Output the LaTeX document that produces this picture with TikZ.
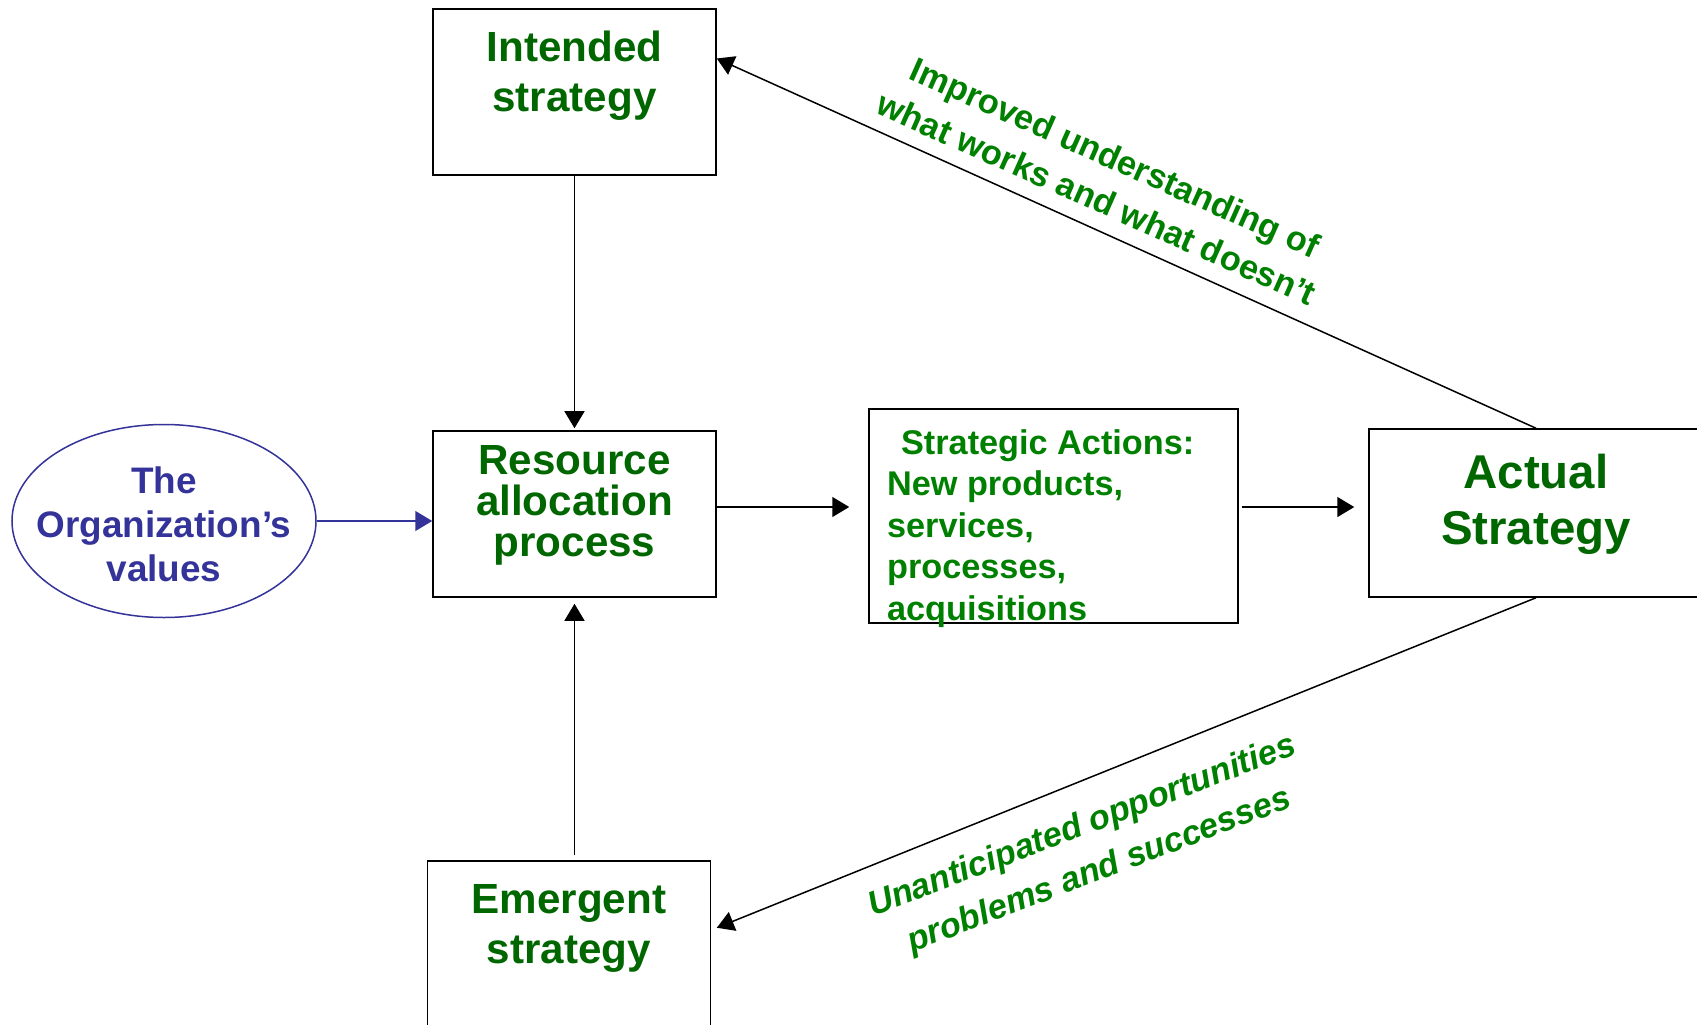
\documentclass[tikz,border=0pt]{standalone}
\usepackage{fontspec}
\setmainfont{Liberation Sans}
\usetikzlibrary{arrows.meta, positioning, shapes.geometric}

\definecolor{stratgreen}{HTML}{006600}
\definecolor{labelgreen}{HTML}{008000}
\definecolor{valblue}{HTML}{333399}

\begin{document}
\begin{tikzpicture}[
  x=0.2mm, y=-0.2mm,
  box/.style = {draw, line width=0.3mm, minimum width=56.6mm, minimum height=33.2mm},
  boxtxt/.style = {inner sep=0pt, align=center, text=stratgreen, font=\bfseries\fontsize{24}{28.5}\selectfont},
  arr/.style = {line width=0.3mm, -{Triangle[length=3.4mm, width=4mm]}},
  lbl/.style = {inner sep=0pt, align=center, text=labelgreen, font=\bfseries\fontsize{19.5}{25.6}\selectfont}
]
  \useasboundingbox (0,0) rectangle (1697,1025);

  % Boxes
  \node[box] (intended) at (574.5,92) {};
  \node[box] (resource) at (574.5,514) {};
  \node[box] (emergent) at (569,944) {};
  \node[box, minimum width=73.8mm, minimum height=42.8mm] (actions) at (1053.5,516) {};
  \node[box, minimum width=66.8mm, minimum height=33.6mm] (actual) at (1536,513) {};
  \node[ellipse, draw=valblue, line width=0.3mm, minimum width=60.8mm, minimum height=38.6mm,
        inner sep=0pt] (values) at (164,521) {};

  % Box texts
  \node[boxtxt, text=valblue, font=\bfseries\fontsize{21}{25}\selectfont] (valuestxt) at (164,524) {The\\Organization’s\\values};
  \node[boxtxt, below=4.4mm of intended.north] (intendedtxt) {Intended\\strategy};
  \node[boxtxt, font=\bfseries\fontsize{24}{23.2}\selectfont, below=3mm of resource.north] (resourcetxt) {Resource\\allocation\\process};
  \node[boxtxt, below=4.8mm of emergent.north] (emergenttxt) {Emergent\\strategy};
  \node[boxtxt, font=\bfseries\fontsize{27}{32}\selectfont, below=5.1mm of actual.north] (actualtxt) {Actual\\Strategy};
  \node[boxtxt, align=left, text=labelgreen, font=\bfseries\fontsize{19.5}{23.6}\selectfont,
        anchor=north west, below right=4.2mm and 3.7mm of actions.north west] (actionstxt)
        {\hspace*{2.8mm}Strategic Actions:\\New products,\\services,\\processes,\\acquisitions};

  % Connectors
  \coordinate (arrowrow) at (0,507);
  \draw[arr, shorten >=0.4mm] (intended) -- (resource);
  \draw[arr, shorten <=1mm, shorten >=1.2mm] (resource.south |- emergent.north) -- (resource.south);
  \draw[arr, valblue] (values.east) -- (resource.west |- values.east);
  \draw[arr, shorten >=3.8mm] (resource.east |- arrowrow) -- (actions.west |- arrowrow);
  \draw[arr, shorten <=0.6mm, shorten >=2.8mm] (actions.east |- arrowrow) -- (actual.west |- arrowrow);
  \draw[arr] (actual.north) -- ([yshift=6.7mm]intended.east);
  \draw[arr, shorten >=1.2mm] (actual.south) -- ([yshift=2.8mm]emergent.east);

  % Feedback labels
  \node[lbl, rotate=-24] (improved) at (1106,178) {Improved understanding of\\what works and what doesn’t};
  \node[lbl, font=\bfseries\itshape\fontsize{19.5}{27}\selectfont, rotate=21] (unanticipated) at (1091,849)
        {Unanticipated opportunities\\problems and successes};
\end{tikzpicture}
\end{document}
